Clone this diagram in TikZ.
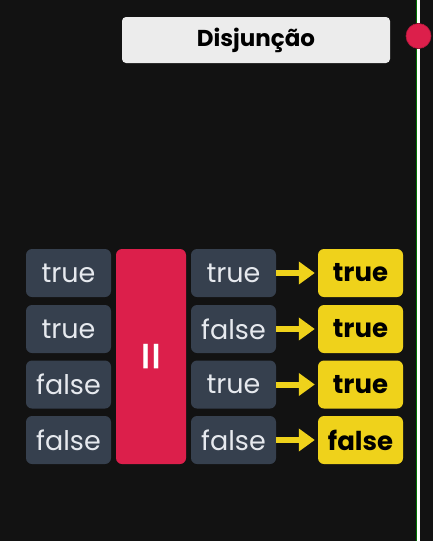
\documentclass[tikz,border=0pt]{standalone}
\usepackage{fontspec}
\setmainfont{Poppins}
\usetikzlibrary{arrows.meta}
\colorlet{bg}{black!93}
\definecolor{slate}{HTML}{36404E}
\definecolor{crimson}{HTML}{DC1F4B}
\definecolor{gold}{HTML}{EFD21B}
\definecolor{paper}{HTML}{ECECEC}
\definecolor{chalk}{HTML}{E6E9EE}
\tikzset{
  cell/.style    ={rounded corners=6pt, inner sep=0pt, align=center,
                   minimum width=85pt, minimum height=48pt},
  Lval/.style    ={cell, fill=slate, text=chalk,
                   font=\fontsize{27}{30}\selectfont},
  Lres/.style    ={cell, fill=gold, text=black,
                   font=\fontsize{26}{30}\selectfont\bfseries},
  Lop/.style     ={rounded corners=6pt, fill=crimson, text=white,
                   minimum width=70pt, minimum height=215pt, inner sep=0pt,
                   font=\fontsize{26}{30}\selectfont\bfseries},
  Ltitle/.style  ={rounded corners=4pt, fill=paper, text=black,
                   minimum width=268pt, minimum height=46pt, inner sep=0pt,
                   font=\fontsize{23}{26}\selectfont\bfseries},
  gives/.style   ={-{Triangle[length=16pt, width=22pt]}, gold,
                   line width=6pt, shorten >=3pt},
}

\begin{document}
\begin{tikzpicture}[x=1pt, y=-1pt]

% --- background ---
\fill[bg] (0,0) rectangle (433,541);
\useasboundingbox (0,0) rectangle (433,541);

% --- title and timeline ---
\node[Ltitle] (title) at (256,40) {Disjunção};

\node[circle, fill=crimson, draw=crimson!80!black, line width=0.6pt,
      minimum size=25pt, inner sep=0pt] (dot) at (418.5,36) {};
\coordinate (top) at (418.5,0);
\coordinate (bot) at (418.5,541);
\draw[green!45!black, line width=0.8pt] ([xshift=-1.8pt]top) -- ([xshift=-1.8pt]dot.north);
\draw[green!45!black, line width=0.8pt] ([xshift=-1.8pt]dot.south) -- ([xshift=-1.8pt]bot);
\draw[white, line width=2.2pt] (top) -- (dot.north);
\draw[white, line width=2.2pt] (dot.south) -- (bot);

% --- left operands ---
\node[Lval] (a1) at (68.5,273)   {true};
\node[Lval] (a2) at (68.5,329)   {true};
\node[Lval] (a3) at (68.5,384.5) {false};
\node[Lval] (a4) at (68.5,440)   {false};

% --- operator ---
\node[Lop] (or) at (151,356.5) {|\hspace{3pt}|};

% --- right operands ---
\node[Lval] (b1) at (233.5,273)   {true};
\node[Lval] (b2) at (233.5,329)   {false};
\node[Lval] (b3) at (233.5,384.5) {true};
\node[Lval] (b4) at (233.5,440)   {false};

% --- results ---
\node[Lres] (r1) at (360.5,273)   {true};
\node[Lres] (r2) at (360.5,329)   {true};
\node[Lres] (r3) at (360.5,384.5) {true};
\node[Lres] (r4) at (360.5,440)   {false};

\draw[gives] (b1) -- (r1);
\draw[gives] (b2) -- (r2);
\draw[gives] (b3) -- (r3);
\draw[gives] (b4) -- (r4);

\end{tikzpicture}
\end{document}
